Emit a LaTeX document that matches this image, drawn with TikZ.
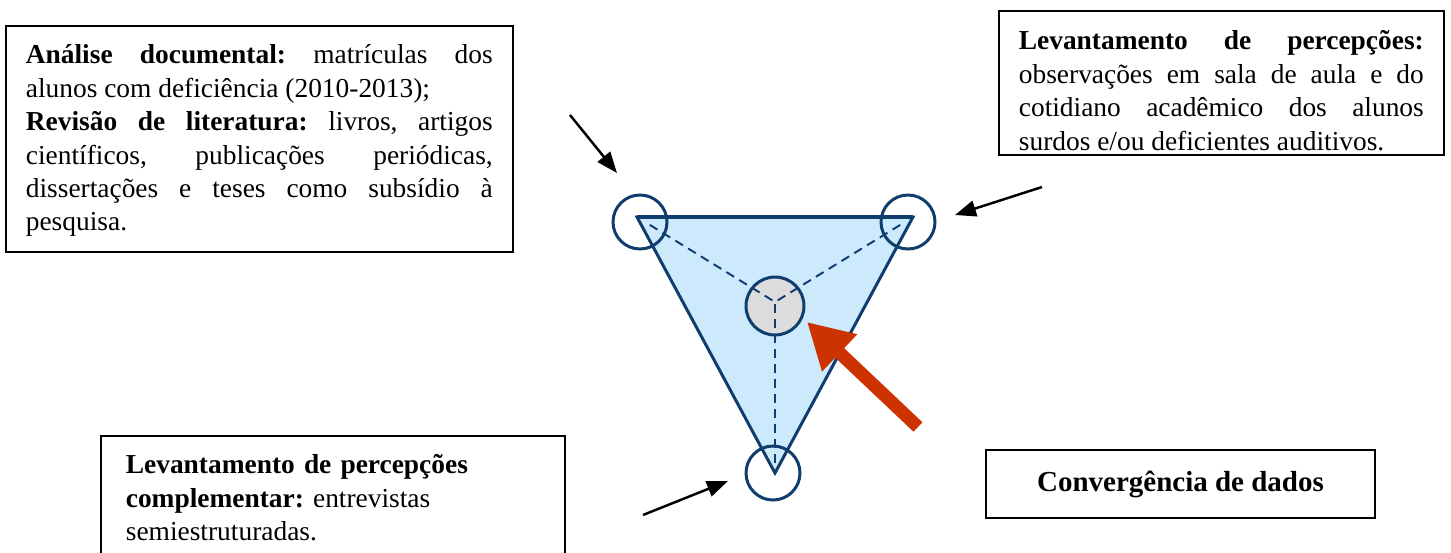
\documentclass[tikz,border=0pt]{standalone}
\usepackage{fontspec}
\setmainfont{Liberation Serif}
\usetikzlibrary{arrows.meta}
\definecolor{triblue}{HTML}{CCEAFC}
\definecolor{tridark}{HTML}{0F3D6E}
\definecolor{arrowred}{HTML}{CC3300}
\definecolor{ctrgrey}{HTML}{DCDCDC}
\newcommand{\boxfont}{\fontsize{15.6}{19}\selectfont\frenchspacing}
\newcommand{\topgap}[1]{\rule{0pt}{#1}}
\newcommand{\botgap}[1]{\rule[-#1]{0pt}{#1}}
\tolerance=9999
\hbadness=10000

\begin{document}
\begin{tikzpicture}[x=0.02cm, y=-0.02cm,
  every node/.style={font=\boxfont},
  txtbox/.style={draw, line width=1pt, inner xsep=0.4cm, inner ysep=0pt},
  vtx/.style={circle, draw=tridark, line width=1.7pt, minimum size=1.08cm, inner sep=0pt},
  spoke/.style={tridark, line width=1.1pt, dash pattern=on 0.18cm off 0.12cm},
  pointer/.style={-{Triangle[length=0.42cm,width=0.32cm]}, line width=1.4pt}]
\path[use as bounding box] (0,0) rectangle (1451,552);
\clip (0,0) rectangle (1451,552);

% text boxes
\node[txtbox, anchor=north west, text width=9.34cm, align=justify] (docs) at (5,25)
  {\topgap{0.76cm}\textbf{Análise documental:} matrículas dos\linebreak alunos com deficiência (2010-2013);\\
   \textbf{Revisão de literatura:} livros, artigos\linebreak científicos, publicações periódicas,\linebreak
   dissertações e teses como subsídio à\linebreak pesquisa.\botgap{0.43cm}};
\node[txtbox, anchor=north west, text width=8.1cm, align=justify] (obs) at (998,10)
  {\topgap{0.78cm}\textbf{Levantamento de percepções:}\linebreak observações em sala de aula e do\linebreak
   cotidiano acadêmico dos alunos\linebreak surdos e/ou deficientes auditivos.\botgap{0.1cm}};
\node[txtbox, anchor=north west, text width=8.28cm, inner xsep=0.5cm, align=left] (ent) at (100,435)
  {\topgap{0.76cm}\textbf{Levantamento de percepções}\\ \textbf{complementar:} entrevistas\\ semiestruturadas.\botgap{0.6cm}};
\node[txtbox, minimum width=7.78cm, minimum height=1.36cm, font=\fontsize{16.5}{19}\selectfont\bfseries] (conv) at (1180.5,484)
  {Convergência de dados};

% triangle
\coordinate (vA) at (637,217);
\coordinate (vB) at (913,217);
\coordinate (vC) at (775,473);
\coordinate (mid) at (775,302);
\fill[triblue] (vA) -- (vB) -- (vC) -- cycle;
\node[circle, draw=tridark, fill=ctrgrey, line width=1.7pt, minimum size=1.16cm, inner sep=0pt] (ctr) at (775,306) {};
\draw[spoke, shorten <=0.3cm] (vA) -- (mid);
\draw[spoke, shorten <=0.3cm] (vB) -- (mid);
\draw[spoke, shorten <=0.2cm] (vC) -- (mid);
\draw[tridark, line width=1.7pt, line join=miter] (vA) -- (vB) -- (vC) -- cycle;
\draw[tridark, line width=2.6pt] (vA) -- (vB);
\node[vtx] (cA) at (640,222) {};
\node[vtx] (cB) at (908,222) {};
\node[vtx] (cC) at (773,473) {};

% arrows
\coordinate (tA) at (570,115);
\coordinate (hA) at (617,173);
\coordinate (tB) at (1042,187);
\coordinate (hB) at (955,215);
\coordinate (tC) at (643,515);
\coordinate (hC) at (728,481);
\coordinate (tR) at (918,427);
\coordinate (hR) at (807,322);
\draw[pointer] (tA) -- (hA);
\draw[pointer] (tB) -- (hB);
\draw[pointer] (tC) -- (hC);
\draw[arrowred, line width=0.26cm, -{Triangle[length=0.9cm,width=0.96cm]}] (tR) -- (hR);
\end{tikzpicture}
\end{document}
